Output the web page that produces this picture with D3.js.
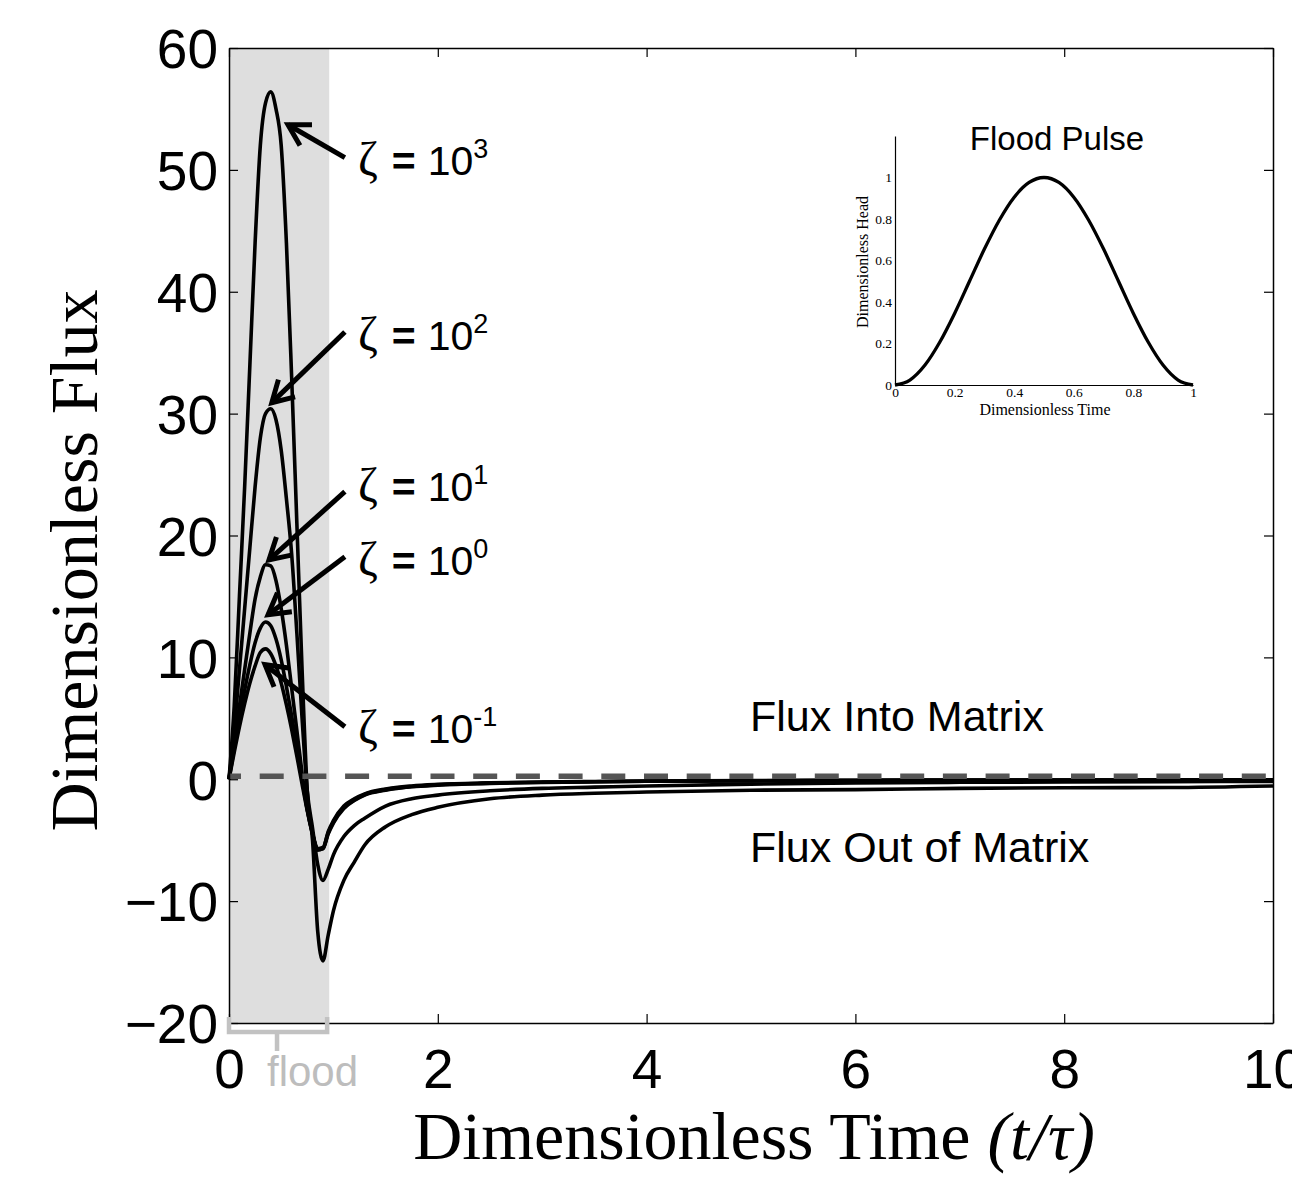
<!DOCTYPE html>
<html>
<head>
<meta charset="utf-8">
<script src="https://cdn.jsdelivr.net/npm/d3@7"></script>
<style>
  body { margin: 0; background: #fff; }
  svg { display: block; }
</style>
</head>
<body>
<svg id="chart" width="1292" height="1178"></svg>
<script>
// Time samples (t / tau) shared by every flux curve
const times = [0, 0.05, 0.1, 0.15, 0.2, 0.25, 0.3, 0.35, 0.4, 0.45, 0.5, 0.55, 0.6, 0.65, 0.7, 0.75, 0.8, 0.85, 0.9, 0.95, 1.0,
  1.1, 1.2, 1.3, 1.5, 1.75, 2, 2.5, 3, 3.5, 4, 5, 6, 7, 8, 9, 10];

// Dimensionless flux for each zeta
const zeta3 = [0, 6, 15, 24, 34, 44, 52, 55.5, 56.4, 55, 52, 44, 33, 21, 9, -1, -5, -12.5, -14.9, -12.8, -10.8,
  -8.3, -6.8, -5.4, -3.9, -2.9, -2.3, -1.6, -1.3, -1.15, -1.05, -0.9, -0.85, -0.75, -0.7, -0.68, -0.55];
const zeta2 = [0, 4, 9, 14, 19, 24, 28, 30, 30.4, 29.5, 27, 23, 18.5, 12, 5, -1, -4, -7, -8.3, -7.4, -6.2,
  -4.7, -3.8, -3.2, -2.2, -1.6, -1.3, -0.95, -0.75, -0.65, -0.55, -0.4, -0.3, -0.25, -0.22, -0.2, -0.18];
const zeta1 = [0, 3, 6, 9, 12, 14.8, 16.6, 17.6, 17.5, 16.3, 14, 11, 7.5, 4, 0.5, -2.5, -4.5, -5.8, -5.7, -4.3, -3.4,
  -2.2, -1.6, -1.2, -0.8, -0.55, -0.42, -0.3, -0.22, -0.18, -0.15, -0.1, -0.08, -0.07, -0.06, -0.05, -0.05];
const zeta0 = [0, 2.5, 5, 7.3, 9.4, 11.2, 12.4, 12.9, 12.6, 11.5, 9.8, 7.6, 5.2, 2.6, 0, -2.5, -4.4, -5.7, -5.6, -4.4, -3.5,
  -2.3, -1.7, -1.25, -0.85, -0.6, -0.45, -0.32, -0.24, -0.2, -0.16, -0.12, -0.1, -0.08, -0.07, -0.06, -0.05];
const zetaM1 = [0, 2.2, 4.3, 6.2, 7.9, 9.3, 10.4, 10.7, 10.3, 9.3, 7.9, 6.1, 4.1, 1.9, -0.4, -2.6, -4.5, -5.8, -5.7, -4.5, -3.6,
  -2.4, -1.75, -1.3, -0.9, -0.62, -0.48, -0.34, -0.26, -0.21, -0.17, -0.13, -0.1, -0.09, -0.08, -0.07, -0.06];

const allSeries = [zeta3, zeta2, zeta1, zeta0, zetaM1];

// Axis ticks
const xTicks = [0, 2, 4, 6, 8, 10];
const yTicks = [-20, -10, 0, 10, 20, 30, 40, 50, 60];

// Annotations: exponent, label anchor, arrow tail and arrow tip (data units)
const labelExps = ["3", "2", "1", "0", "-1"];
const labelPos = [[1.235, 49.6], [1.235, 35.2], [1.235, 22.8], [1.235, 16.8], [1.235, 3.0]];
const arrowTail = [[1.11, 51.0], [1.11, 36.7], [1.11, 23.6], [1.11, 18.25], [1.11, 4.3]];
const arrowTip = [[0.565, 53.7], [0.41, 30.9], [0.383, 18.0], [0.374, 13.5], [0.345, 9.4]];

// Inset: flood pulse head vs time
const pulseT = [0, 0.05, 0.1, 0.15, 0.2, 0.25, 0.3, 0.35, 0.4, 0.45, 0.5, 0.55, 0.6, 0.65, 0.7, 0.75, 0.8, 0.85, 0.9, 0.95, 1];
const pulseH = [0, 0.024, 0.095, 0.206, 0.345, 0.5, 0.655, 0.794, 0.905, 0.976, 1, 0.976, 0.905, 0.794, 0.655, 0.5, 0.345, 0.206, 0.095, 0.024, 0];
const pulseXTicks = [0, 0.2, 0.4, 0.6, 0.8, 1];
const pulseYTicks = [0, 0.2, 0.4, 0.6, 0.8, 1];

const SANS = "'Liberation Sans', Arial, Helvetica, sans-serif";
const SERIF = "'Liberation Serif', 'Times New Roman', serif";

const svg = d3.select("#chart");
svg.append("rect").attr("width", 1292).attr("height", 1178).attr("fill", "#fff");

const plotLeft = 229, plotRight = 1273, plotTop = 48, plotBottom = 1023;
const x = d3.scaleLinear().domain([0, 10]).range([plotLeft, plotRight]);
const y = d3.scaleLinear().domain([-20, 60]).range([plotBottom, plotTop]);

// flood period shading
svg.append("rect")
  .attr("x", x(0)).attr("y", plotTop)
  .attr("width", x(0.96) - x(0)).attr("height", plotBottom - plotTop)
  .attr("fill", "#dedede");

// flux curves
const line = d3.line()
  .x((d, i) => x(times[i]))
  .y(d => y(d))
  .curve(d3.curveMonotoneX);

svg.append("g").selectAll("path")
  .data(allSeries)
  .join("path")
  .attr("d", d => line(d))
  .attr("fill", "none")
  .attr("stroke", "#000")
  .attr("stroke-width", 3.6)
  .attr("stroke-linejoin", "round");

// zero line
svg.append("line")
  .attr("x1", x(0)).attr("x2", x(10))
  .attr("y1", y(0) - 3).attr("y2", y(0) - 3)
  .attr("stroke", "#555")
  .attr("stroke-width", 5.5)
  .attr("stroke-dasharray", "24,18.7")
  .attr("stroke-dashoffset", 12);

// axes, MATLAB style box with inward ticks
const axisStyle = g => {
  g.select(".domain").attr("stroke", "#000").attr("stroke-width", 1.5);
  g.selectAll(".tick line").attr("stroke", "#000").attr("stroke-width", 1.2);
};

svg.append("g")
  .attr("transform", `translate(${plotLeft},0)`)
  .call(d3.axisLeft(y).tickValues(yTicks).tickSize(-9).tickSizeOuter(0).tickPadding(11)
    .tickFormat(d => d < 0 ? "\u2212" + Math.abs(d) : d))
  .call(axisStyle)
  .call(g => g.selectAll("text").attr("font-family", SANS).attr("font-size", 55).attr("fill", "#000").attr("dy", "0.36em"));

svg.append("g")
  .attr("transform", `translate(0,${plotBottom})`)
  .call(d3.axisBottom(x).tickValues(xTicks).tickSize(-9).tickSizeOuter(0).tickPadding(26))
  .call(axisStyle)
  .call(g => g.selectAll("text").attr("font-family", SANS).attr("font-size", 55).attr("fill", "#000"));

svg.append("g")
  .attr("transform", `translate(${plotRight},0)`)
  .call(d3.axisRight(y).tickValues(yTicks).tickSize(-9).tickSizeOuter(0).tickFormat(""))
  .call(axisStyle);

svg.append("g")
  .attr("transform", `translate(0,${plotTop})`)
  .call(d3.axisTop(x).tickValues(xTicks).tickSize(-9).tickSizeOuter(0).tickFormat(""))
  .call(axisStyle);

// axis titles
svg.append("text")
  .attr("transform", `translate(97,${(plotTop + plotBottom) / 2 + 25}) rotate(-90)`)
  .attr("text-anchor", "middle")
  .attr("font-family", SERIF)
  .attr("font-size", 68)
  .text("Dimensionless Flux");

const xTitle = svg.append("text")
  .attr("x", 754).attr("y", 1159)
  .attr("text-anchor", "middle")
  .attr("font-family", SERIF)
  .attr("font-size", 68);
xTitle.append("tspan").text("Dimensionless Time ");
xTitle.append("tspan").attr("font-style", "italic").text("(t/\u03C4)");

// zeta labels and arrows
labelExps.forEach((e, i) => {
  const t = svg.append("text")
    .attr("x", x(labelPos[i][0])).attr("y", y(labelPos[i][1]))
    .attr("font-family", SANS).attr("font-size", 41);
  t.append("tspan").attr("font-family", SERIF).attr("font-size", 48).text("\u03B6");
  t.append("tspan").attr("dx", 14).attr("font-weight", "bold").text("=");
  t.append("tspan").attr("dx", 12).text("10");
  t.append("tspan").attr("font-size", 27).attr("dy", -17).text(e);

  const x0 = x(arrowTail[i][0]), y0 = y(arrowTail[i][1]);
  const x1 = x(arrowTip[i][0]), y1 = y(arrowTip[i][1]);
  const ang = Math.atan2(y1 - y0, x1 - x0);
  const len = 24, spread = Math.PI / 6;
  svg.append("line")
    .attr("x1", x0).attr("y1", y0).attr("x2", x1).attr("y2", y1)
    .attr("stroke", "#000").attr("stroke-width", 5);
  svg.append("path")
    .attr("d", `M${x1 - len * Math.cos(ang - spread)},${y1 - len * Math.sin(ang - spread)}L${x1},${y1}L${x1 - len * Math.cos(ang + spread)},${y1 - len * Math.sin(ang + spread)}`)
    .attr("fill", "none").attr("stroke", "#000").attr("stroke-width", 5)
    .attr("stroke-linecap", "butt").attr("stroke-linejoin", "miter");
});

// flux direction notes
svg.append("text").attr("x", 750).attr("y", 731)
  .attr("font-family", SANS).attr("font-size", 43).text("Flux Into Matrix");
svg.append("text").attr("x", 750).attr("y", 862)
  .attr("font-family", SANS).attr("font-size", 43).text("Flux Out of Matrix");

// flood bracket under the axis
const bx0 = x(0), bx1 = x(0.94), bxm = x(0.46);
svg.append("path")
  .attr("d", `M${bx0},${plotBottom - 6}V${plotBottom + 9}H${bx1}V${plotBottom - 6}M${bxm},${plotBottom + 9}V${plotBottom + 28}`)
  .attr("fill", "none").attr("stroke", "#c2c2c2").attr("stroke-width", 4.5);
svg.append("text").attr("x", x(0.8)).attr("y", 1086)
  .attr("text-anchor", "middle")
  .attr("font-family", SANS).attr("font-size", 42).attr("fill", "#bdbdbd").text("flood");

// inset: flood pulse
const ix = d3.scaleLinear().domain([0, 1]).range([895, 1193]);
const iy = d3.scaleLinear().domain([0, 1.2]).range([385, 136]);
const inset = svg.append("g");

inset.append("g")
  .attr("transform", "translate(0,385)")
  .call(d3.axisBottom(ix).tickValues(pulseXTicks).tickSize(0).tickPadding(2).tickFormat(d3.format("")))
  .call(g => g.select(".domain").attr("stroke", "#000").attr("stroke-width", 1.2))
  .call(g => g.selectAll("text").attr("font-family", SERIF).attr("font-size", 13.5).attr("fill", "#000"));

inset.append("g")
  .attr("transform", "translate(895,0)")
  .call(d3.axisLeft(iy).tickValues(pulseYTicks).tickSize(0).tickPadding(3).tickFormat(d3.format("")))
  .call(g => g.select(".domain").attr("stroke", "#000").attr("stroke-width", 1.2))
  .call(g => g.selectAll("text").attr("font-family", SERIF).attr("font-size", 13.5).attr("fill", "#000"));

inset.append("path")
  .attr("d", d3.line().x((d, i) => ix(pulseT[i])).y(d => iy(d)).curve(d3.curveMonotoneX)(pulseH))
  .attr("fill", "none").attr("stroke", "#000").attr("stroke-width", 3.3);

inset.append("text").attr("x", 1057).attr("y", 150)
  .attr("text-anchor", "middle").attr("font-family", SANS).attr("font-size", 33).text("Flood Pulse");
inset.append("text").attr("x", 1045).attr("y", 415)
  .attr("text-anchor", "middle").attr("font-family", SERIF).attr("font-size", 16).text("Dimensionless Time");
inset.append("text")
  .attr("transform", "translate(868,262) rotate(-90)")
  .attr("text-anchor", "middle").attr("font-family", SERIF).attr("font-size", 16).text("Dimensionless Head");
</script>
</body>
</html>
